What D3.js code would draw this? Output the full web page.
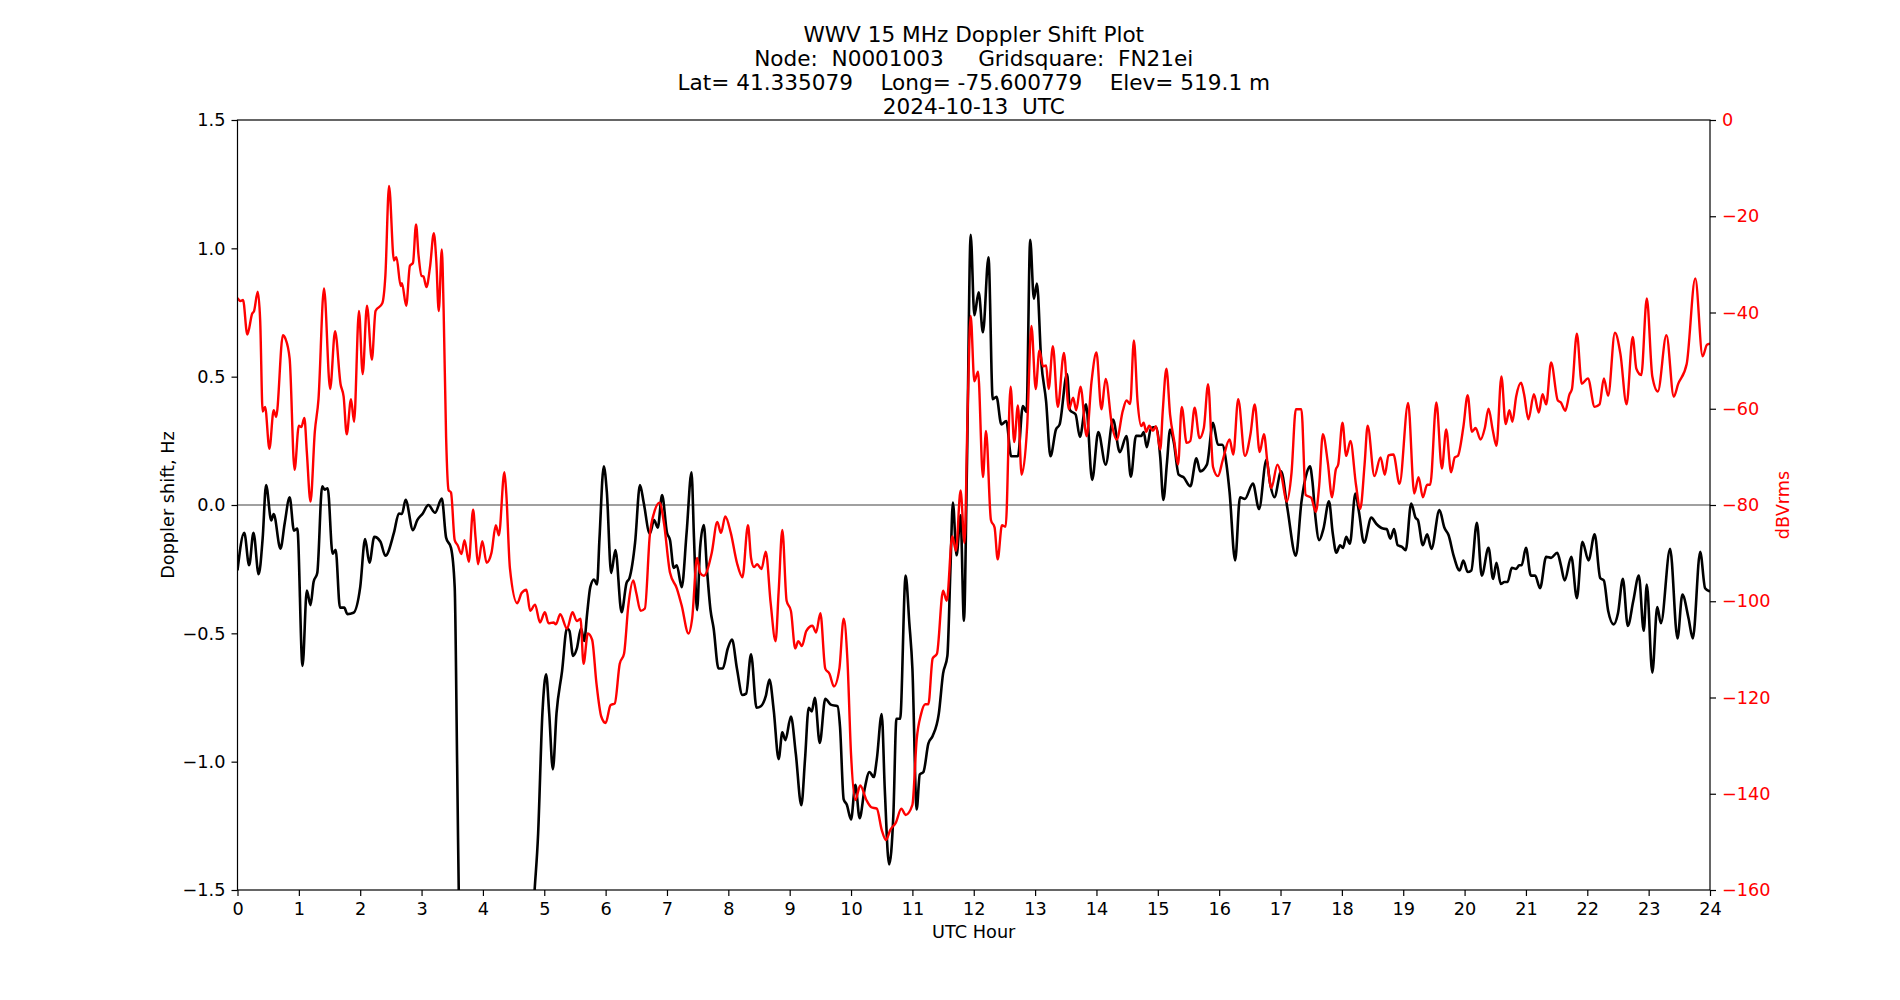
<!DOCTYPE html>
<html>
<head>
<meta charset="utf-8">
<script src="https://cdn.jsdelivr.net/npm/d3@7"></script>
<style>
  html, body { margin: 0; padding: 0; background: #fff; }
  svg { display: block; font-family: "DejaVu Sans", sans-serif; }
</style>
</head>
<body>
<svg id="chart" width="1900" height="1000"></svg>
<script>
// ---------------- DATA ----------------
const titleLines = [
  "WWV 15 MHz Doppler Shift Plot",
  "Node:  N0001003     Gridsquare:  FN21ei",
  "Lat= 41.335079    Long= -75.600779    Elev= 519.1 m",
  "2024-10-13  UTC"
];
const xLabel = "UTC Hour";
const yLeftLabel = "Doppler shift, Hz";
const yRightLabel = "dBVrms";

const xTicks = d3.range(0, 25, 1);
const leftTicks = [-1.5, -1.0, -0.5, 0.0, 0.5, 1.0, 1.5];
const rightTicks = [-160, -140, -120, -100, -80, -60, -40, -20, 0];

// Doppler shift (Hz) vs UTC hour (black line)
const dopplerHours = [
  0.00,0.11,0.19,0.26,0.345,0.41,0.466,0.55,0.59,0.70,0.77,0.85,0.92,0.975,1.06,1.13,1.19,1.24,1.30,1.38,
  1.42,1.47,1.55,1.60,1.67,1.74,1.79,1.89,2.00,2.08,2.15,2.23,2.33,2.41,2.55,2.63,2.68,2.74,2.86,2.93,
  3.02,3.11,3.22,3.33,3.40,3.48,3.54,3.58,3.62,3.66,4.76,4.82,4.90,4.97,5.03,5.08,5.14,5.20,5.29,5.37,
  5.41,5.47,5.53,5.60,5.65,5.70,5.75,5.81,5.86,5.90,5.97,6.02,6.09,6.16,6.26,6.34,6.39,6.48,6.56,6.62,
  6.72,6.79,6.85,6.92,7.00,7.05,7.11,7.16,7.24,7.32,7.40,7.44,7.49,7.54,7.60,7.65,7.71,7.76,7.84,7.91,
  7.99,8.06,8.14,8.23,8.29,8.37,8.46,8.53,8.61,8.67,8.74,8.82,8.88,8.93,9.02,9.10,9.19,9.25,9.31,9.36,
  9.41,9.49,9.58,9.67,9.78,9.82,9.88,9.93,10.00,10.07,10.14,10.22,10.30,10.37,10.42,10.50,10.55,10.62,10.69,10.74,
  10.80,10.89,10.95,11.00,11.07,11.12,11.18,11.26,11.33,11.43,11.50,11.57,11.62,11.66,11.72,11.785,11.84,11.89,11.95,12.01,
  12.08,12.15,12.24,12.31,12.37,12.45,12.53,12.61,12.72,12.80,12.86,12.92,12.98,13.03,13.10,13.18,13.25,13.34,13.40,13.52,
  13.57,13.66,13.73,13.83,13.93,14.03,14.15,14.27,14.38,14.49,14.56,14.645,14.73,14.77,14.82,14.89,14.97,15.04,15.09,15.15,
  15.20,15.26,15.34,15.42,15.53,15.63,15.69,15.80,15.90,15.98,16.05,16.12,16.17,16.26,16.34,16.42,16.55,16.65,16.77,16.83,
  16.90,17.01,17.11,17.25,17.34,17.43,17.48,17.52,17.57,17.63,17.70,17.79,17.85,17.91,17.97,18.02,18.07,18.13,18.22,18.28,
  18.36,18.48,18.56,18.67,18.73,18.79,18.85,18.91,18.98,19.04,19.13,19.20,19.24,19.32,19.39,19.46,19.59,19.67,19.74,19.82,
  19.92,19.98,20.05,20.11,20.20,20.28,20.39,20.465,20.52,20.59,20.65,20.70,20.77,20.84,20.89,20.93,21.00,21.08,21.15,21.23,
  21.33,21.41,21.51,21.57,21.63,21.74,21.83,21.92,22.02,22.12,22.21,22.27,22.34,22.43,22.50,22.58,22.66,22.75,22.84,22.92,
  22.97,23.06,23.14,23.20,23.35,23.47,23.55,23.65,23.72,23.84,23.92,24.00
];
const dopplerHz = [
  -0.255,-0.108,-0.235,-0.108,-0.27,-0.13,0.078,-0.06,-0.035,-0.17,-0.07,0.03,-0.10,-0.092,-0.627,-0.333,-0.39,-0.30,-0.265,0.073,
  0.06,0.065,-0.19,-0.175,-0.40,-0.40,-0.425,-0.42,-0.32,-0.133,-0.225,-0.124,-0.143,-0.198,-0.108,-0.033,-0.035,0.02,-0.098,-0.059,
  -0.033,0.0,-0.03,0.025,-0.127,-0.167,-0.32,-1.01,-1.75,-2.0,-2.0,-1.6,-1.28,-0.81,-0.66,-0.81,-1.03,-0.81,-0.647,-0.48,
  -0.49,-0.588,-0.56,-0.48,-0.53,-0.42,-0.32,-0.29,-0.31,-0.13,0.151,0.05,-0.265,-0.176,-0.418,-0.304,-0.284,-0.147,0.078,0.01,
  -0.112,-0.059,-0.088,0.039,-0.108,-0.137,-0.245,-0.235,-0.32,-0.108,0.127,-0.127,-0.41,-0.167,-0.078,-0.245,-0.41,-0.48,-0.637,-0.637,
  -0.56,-0.524,-0.637,-0.74,-0.735,-0.582,-0.79,-0.784,-0.745,-0.68,-0.80,-0.99,-0.886,-0.916,-0.824,-0.97,-1.17,-0.99,-0.79,-0.804,
  -0.751,-0.927,-0.755,-0.778,-0.784,-0.863,-1.147,-1.167,-1.225,-1.09,-1.22,-1.108,-1.04,-1.06,-0.99,-0.814,-1.108,-1.40,-1.206,-0.833,
  -0.833,-0.275,-0.46,-0.637,-1.186,-1.05,-1.04,-0.93,-0.90,-0.814,-0.657,-0.588,-0.25,0.01,-0.196,-0.04,-0.451,0.167,1.053,0.739,
  0.829,0.673,0.965,0.412,0.422,0.314,0.327,0.19,0.19,0.386,0.363,1.033,0.804,0.863,0.559,0.402,0.19,0.294,0.314,0.51,
  0.369,0.353,0.265,0.392,0.098,0.284,0.157,0.333,0.206,0.269,0.11,0.27,0.269,0.284,0.225,0.30,0.304,0.186,0.02,0.167,
  0.294,0.245,0.118,0.108,0.073,0.182,0.131,0.157,0.32,0.235,0.235,0.157,0.049,-0.216,0.03,0.024,0.084,-0.016,0.176,0.084,
  0.03,0.131,-0.01,-0.198,0.01,0.127,0.151,0.092,-0.049,-0.137,-0.092,0.014,-0.108,-0.186,-0.157,-0.167,-0.124,-0.151,0.045,-0.029,
  -0.147,-0.049,-0.073,-0.092,-0.094,-0.131,-0.094,-0.157,-0.163,-0.176,0.006,-0.049,-0.059,-0.157,-0.114,-0.171,-0.02,-0.088,-0.118,-0.196,
  -0.255,-0.216,-0.261,-0.255,-0.069,-0.275,-0.167,-0.288,-0.225,-0.308,-0.30,-0.30,-0.245,-0.249,-0.235,-0.235,-0.167,-0.275,-0.275,-0.324,
  -0.202,-0.206,-0.186,-0.235,-0.294,-0.202,-0.363,-0.143,-0.216,-0.114,-0.284,-0.294,-0.412,-0.465,-0.422,-0.288,-0.471,-0.373,-0.275,-0.49,
  -0.31,-0.653,-0.398,-0.461,-0.171,-0.52,-0.349,-0.441,-0.52,-0.182,-0.324,-0.337
];

// Received power (dBVrms) vs UTC hour (red line)
const powerHours = [
  0.00,0.05,0.09,0.16,0.24,0.27,0.33,0.37,0.41,0.45,0.52,0.59,0.63,0.74,0.78,0.85,0.93,1.00,1.04,1.09,
  1.13,1.19,1.26,1.32,1.41,1.51,1.59,1.68,1.73,1.78,1.85,1.90,1.98,2.04,2.11,2.19,2.25,2.36,2.41,2.47,
  2.55,2.59,2.66,2.68,2.75,2.81,2.86,2.91,2.95,3.00,3.03,3.08,3.14,3.20,3.24,3.28,3.33,3.36,3.40,3.44,
  3.48,3.54,3.59,3.65,3.70,3.77,3.84,3.88,3.92,3.99,4.06,4.14,4.21,4.26,4.35,4.38,4.44,4.56,4.63,4.71,
  4.77,4.85,4.93,5.01,5.07,5.15,5.19,5.26,5.37,5.46,5.53,5.59,5.64,5.71,5.78,5.85,5.93,6.00,6.08,6.15,
  6.23,6.30,6.37,6.45,6.50,6.57,6.64,6.72,6.79,6.88,6.95,7.05,7.16,7.24,7.35,7.41,7.49,7.54,7.60,7.73,
  7.82,7.88,7.95,8.04,8.14,8.23,8.32,8.37,8.42,8.47,8.54,8.61,8.69,8.77,8.82,8.88,8.95,9.02,9.09,9.14,
  9.20,9.27,9.37,9.43,9.50,9.58,9.65,9.72,9.81,9.88,9.94,10.00,10.07,10.15,10.25,10.33,10.42,10.50,10.57,10.64,
  10.73,10.82,10.89,11.00,11.07,11.14,11.21,11.26,11.33,11.40,11.50,11.56,11.65,11.71,11.785,11.85,11.90,11.95,12.01,12.07,
  12.15,12.20,12.28,12.34,12.39,12.46,12.52,12.60,12.66,12.72,12.78,12.87,12.94,13.01,13.07,13.13,13.18,13.22,13.29,13.37,
  13.47,13.55,13.62,13.67,13.74,13.84,13.92,14.00,14.08,14.15,14.25,14.33,14.43,14.49,14.55,14.61,14.67,14.73,14.77,14.81,
  14.86,14.92,14.97,15.04,15.08,15.14,15.20,15.27,15.33,15.39,15.47,15.53,15.60,15.68,15.75,15.82,15.90,15.98,16.06,16.17,
  16.23,16.31,16.42,16.51,16.58,16.66,16.73,16.79,16.85,16.95,17.02,17.10,17.18,17.25,17.34,17.41,17.50,17.575,17.63,17.69,
  17.77,17.84,17.90,17.94,18.01,18.07,18.14,18.23,18.30,18.37,18.42,18.53,18.63,18.70,18.76,18.84,18.94,19.08,19.18,19.25,
  19.32,19.39,19.44,19.54,19.63,19.70,19.78,19.84,19.89,19.98,20.05,20.12,20.18,20.26,20.33,20.39,20.46,20.52,20.60,20.67,
  20.73,20.78,20.84,20.92,20.97,21.04,21.13,21.21,21.27,21.33,21.41,21.52,21.57,21.64,21.71,21.75,21.83,21.91,22.01,22.12,
  22.20,22.27,22.34,22.45,22.54,22.64,22.74,22.80,22.88,22.97,23.06,23.15,23.29,23.41,23.48,23.62,23.76,23.88,23.95,24.00
];
const powerDb = [
  -37,-37.6,-37.4,-44.6,-40.2,-39.7,-35.7,-41.8,-60.6,-59.6,-68.3,-60.3,-61.7,-44.7,-45.4,-49.6,-72.7,-63.5,-63.8,-61.9,
  -69.0,-79.3,-64.8,-58.0,-35.0,-55.9,-43.9,-54.9,-57.5,-65.3,-58.0,-62.7,-39.7,-52.8,-38.6,-49.8,-39.7,-38.1,-32.4,-13.7,
  -29.2,-28.5,-34.5,-33.9,-38.6,-30.3,-29.7,-21.7,-28,-32.4,-32.5,-34.7,-30.3,-23.5,-29.2,-39.7,-26.9,-39.7,-65.9,-76.9,
  -77.4,-87.3,-88.4,-90.2,-87.3,-91.8,-81.0,-86.8,-92.3,-87.5,-92.0,-89.9,-84.2,-86.3,-73.2,-77.4,-93.1,-100.4,-98.3,-97.6,
  -102.0,-100.7,-104.4,-102.3,-104.6,-104.4,-104.8,-102.7,-105.7,-102.3,-104.1,-103.6,-113.0,-106.7,-108,-117,-124.0,-125.3,-121.6,-121.2,
  -113.0,-110.9,-100.9,-95.7,-98.3,-102.0,-101.5,-86.3,-81.6,-79.5,-83.7,-94.1,-97.3,-100.9,-106.7,-103.6,-91.0,-94.1,-94.7,-89.9,
  -83.5,-85.8,-82.4,-85.8,-92.0,-95.0,-84.2,-91.0,-92.9,-92.3,-93.3,-89.7,-100.4,-108.3,-98,-85.2,-99.9,-102.0,-109.8,-108.3,
  -109.3,-106.2,-105.1,-106.5,-102.5,-114.0,-115.1,-117.7,-114.0,-103.6,-111.9,-131.8,-141.3,-138.3,-141.3,-142.8,-143.1,-147.5,-149.6,-147.5,
  -146.0,-143.1,-144.4,-142.3,-128.7,-123.5,-121.4,-121.4,-111.9,-110.9,-97.8,-99.9,-86.5,-89.5,-77,-87.9,-60.6,-40.7,-54.3,-52.3,
  -74.2,-64.6,-83.1,-84.7,-91.3,-84.2,-84.5,-55.4,-66.9,-59.3,-73.7,-63.8,-42.8,-55.9,-47.9,-51.2,-51.0,-55.9,-47.0,-59.6,
  -48.4,-60.1,-57.7,-60.3,-55.4,-65.7,-54.3,-48.3,-60.1,-53.8,-63.2,-66.4,-60.4,-58.3,-59.0,-45.8,-58.5,-63.6,-62.9,-64.8,
  -63.5,-64.6,-63.6,-68.5,-60.6,-51.7,-61.2,-66.9,-71.6,-59.6,-67.1,-66.7,-59.8,-66.1,-64.0,-54.9,-72.1,-74.0,-70.6,-66.4,
  -69.5,-58.0,-69.8,-65.3,-59.1,-69.0,-65.3,-71.6,-76.5,-71.6,-74.2,-79.3,-73.2,-60.1,-60.1,-77.9,-78.5,-81.4,-76,-65.3,
  -71.1,-78.4,-72.7,-71.6,-62.9,-69.8,-66.7,-75.8,-80.8,-71.6,-63.5,-74.0,-70.1,-73.7,-69.7,-69.5,-75.6,-58.8,-77.6,-74.2,
  -78.4,-75.8,-75.8,-58.7,-72.4,-64.3,-73.2,-70.1,-69.8,-63.8,-57.2,-64.8,-64.0,-66.4,-64.0,-60,-64.5,-67.7,-53.3,-63.2,
  -60.3,-62.7,-57.5,-54.6,-57.0,-62.2,-57.0,-60.8,-57.0,-59.1,-50.4,-58.3,-58.7,-60.4,-57.0,-55.9,-44.4,-54.8,-53.7,-59.6,
  -59.1,-53.7,-57.3,-44.2,-48.6,-59.1,-45.1,-51.7,-53.0,-37.1,-53.3,-56.4,-44.7,-57.5,-54.9,-50.7,-32.9,-49.1,-46.7,-46.5
];

// ---------------- CHART ----------------
const W = 1900, H = 1000;
const plot = { left: 237.5, right: 1710, top: 120, bottom: 890 };
const FONT = 17.7;
const svg = d3.select("#chart");

const x = d3.scaleLinear().domain([0, 24]).range([plot.left, plot.right]);
const yL = d3.scaleLinear().domain([-1.5, 1.5]).range([plot.bottom, plot.top]);
const yR = d3.scaleLinear().domain([-160, 0]).range([plot.bottom, plot.top]);

const fmtMinus = s => s.replace("-", "\u2212");

svg.append("defs").append("clipPath").attr("id", "clip")
  .append("rect")
  .attr("x", plot.left).attr("y", plot.top)
  .attr("width", plot.right - plot.left).attr("height", plot.bottom - plot.top);

// zero line
svg.append("line")
  .attr("x1", plot.left).attr("x2", plot.right)
  .attr("y1", yL(0)).attr("y2", yL(0))
  .attr("stroke", "#808080").attr("stroke-width", 1.3);

const dopplerData = dopplerHours.map((h, i) => [h, dopplerHz[i]]);
const powerData = powerHours.map((h, i) => [h, powerDb[i]]);

const lineL = d3.line().x(d => x(d[0])).y(d => yL(d[1])).curve(d3.curveMonotoneX);
const lineR = d3.line().x(d => x(d[0])).y(d => yR(d[1])).curve(d3.curveMonotoneX);

const gLines = svg.append("g").attr("clip-path", "url(#clip)");
gLines.append("path").datum(dopplerData)
  .attr("d", lineL).attr("fill", "none")
  .attr("stroke", "#000").attr("stroke-width", 2.6)
  .attr("stroke-linejoin", "round");
gLines.append("path").datum(powerData)
  .attr("d", lineR).attr("fill", "none")
  .attr("stroke", "#ff0000").attr("stroke-width", 2.4)
  .attr("stroke-linejoin", "round");

// axes
function styleAxis(g, color) {
  g.select(".domain").remove();
  g.selectAll(".tick line").attr("stroke", "#000").attr("stroke-width", 1.2);
  g.selectAll(".tick text")
    .attr("font-family", "DejaVu Sans, sans-serif")
    .attr("font-size", FONT)
    .attr("fill", color);
}

const gx = svg.append("g").attr("transform", `translate(0,${plot.bottom})`)
  .call(d3.axisBottom(x).tickValues(xTicks).tickSize(6).tickPadding(6).tickFormat(d3.format("d")));
styleAxis(gx, "#000");

const gyL = svg.append("g").attr("transform", `translate(${plot.left},0)`)
  .call(d3.axisLeft(yL).tickValues(leftTicks).tickSize(6).tickPadding(6)
    .tickFormat(d => fmtMinus(d3.format(".1f")(d))));
styleAxis(gyL, "#000");

const gyR = svg.append("g").attr("transform", `translate(${plot.right},0)`)
  .call(d3.axisRight(yR).tickValues(rightTicks).tickSize(6).tickPadding(6)
    .tickFormat(d => fmtMinus(d3.format("d")(d))));
styleAxis(gyR, "#ff0000");

// frame
svg.append("rect")
  .attr("x", plot.left).attr("y", plot.top)
  .attr("width", plot.right - plot.left).attr("height", plot.bottom - plot.top)
  .attr("fill", "none").attr("stroke", "#000").attr("stroke-width", 1.2);

// labels
svg.append("text")
  .attr("x", (plot.left + plot.right) / 2).attr("y", 937.5)
  .attr("text-anchor", "middle").attr("font-size", FONT).attr("fill", "#000")
  .text(xLabel);

svg.append("text")
  .attr("transform", `translate(174,${(plot.top + plot.bottom) / 2}) rotate(-90)`)
  .attr("text-anchor", "middle").attr("font-size", FONT).attr("fill", "#000")
  .text(yLeftLabel);

svg.append("text")
  .attr("transform", `translate(1789,${(plot.top + plot.bottom) / 2}) rotate(-90)`)
  .attr("text-anchor", "middle").attr("font-size", FONT).attr("fill", "#ff0000")
  .text(yRightLabel);

// title
const titleBaselines = [42, 66, 90, 114];
svg.append("g").selectAll("text").data(titleLines).join("text")
  .attr("x", (plot.left + plot.right) / 2)
  .attr("y", (d, i) => titleBaselines[i])
  .attr("text-anchor", "middle")
  .attr("font-size", 21.6)
  .attr("fill", "#000")
  .attr("xml:space", "preserve")
  .style("white-space", "pre")
  .text(d => d);
</script>
</body>
</html>
